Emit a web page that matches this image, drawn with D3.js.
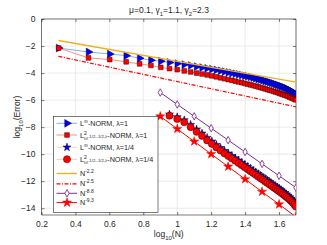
<!DOCTYPE html>
<html><head><meta charset="utf-8">
<script src="https://cdn.jsdelivr.net/npm/d3@7"></script>
<style>body{margin:0;background:#fff}svg{display:block;font-family:"Liberation Sans",Arial,sans-serif}</style>
</head><body><svg id="c" width="327" height="245"></svg>
<script>
// ---- data ----
const N = [2,3,4,5,6,7,8,9,10,11,12,13,14,15,16,17,18,19,20,21,22,23,24,25,26,27,28,29,30,31,32,33,34,35,36,37,38,39,40,41,42,43,44,45,46,47,48,49,50];
const errInfLam1 = [-2.15,-2.44,-2.59,-2.71,-2.90,-3.05,-3.12,-3.21,-3.30,-3.37,-3.44,-3.52,-3.59,-3.65,-3.71,-3.77,-3.83,-3.89,-3.95,-4.00,-4.05,-4.10,-4.15,-4.20,-4.25,-4.29,-4.34,-4.39,-4.44,-4.49,-4.54,-4.59,-4.63,-4.68,-4.73,-4.78,-4.83,-4.88,-4.93,-4.98,-5.03,-5.08,-5.14,-5.20,-5.26,-5.33,-5.40,-5.48,-5.57];
const errL2Lam1 = [-2.15,-2.88,-3.00,-3.17,-3.32,-3.44,-3.58,-3.67,-3.75,-3.84,-3.92,-4.00,-4.07,-4.14,-4.21,-4.28,-4.35,-4.42,-4.48,-4.54,-4.60,-4.66,-4.71,-4.77,-4.82,-4.87,-4.92,-4.97,-5.02,-5.07,-5.12,-5.17,-5.22,-5.26,-5.31,-5.36,-5.40,-5.45,-5.50,-5.54,-5.59,-5.63,-5.68,-5.73,-5.78,-5.83,-5.88,-5.93,-5.98];
const N14 = [9,10,11,12,13,14,15,16,17,18,19,20,21,22,23,24,25,26,27,28,29,30,31,32,33,34,35,36,37,38,39,40,41,42,43,44,45,46,47,48,49,50];
const errInfLam14 = [-7.05,-7.25,-7.48,-7.82,-8.16,-8.46,-8.78,-9.05,-9.30,-9.53,-9.75,-9.94,-10.12,-10.29,-10.46,-10.62,-10.77,-10.92,-11.06,-11.20,-11.33,-11.46,-11.58,-11.70,-11.82,-11.93,-12.04,-12.15,-12.26,-12.36,-12.46,-12.56,-12.66,-12.76,-12.86,-12.96,-13.06,-13.17,-13.28,-13.40,-13.54,-13.70];
const errL2Lam14 = [-7.16,-7.40,-7.64,-8.00,-8.35,-8.65,-8.98,-9.25,-9.50,-9.73,-9.95,-10.14,-10.32,-10.49,-10.66,-10.82,-10.97,-11.12,-11.26,-11.40,-11.53,-11.66,-11.78,-11.90,-12.02,-12.13,-12.24,-12.35,-12.46,-12.56,-12.66,-12.76,-12.86,-12.96,-13.06,-13.16,-13.26,-13.37,-13.48,-13.60,-13.73,-13.87];
const refXLow = [0.3, 1.7];
const ref22 = [-1.59, -4.67];
const ref25 = [-2.76, -6.50];
const refXHigh = [0.9,1.0,1.1,1.2,1.3,1.4,1.5,1.6,1.7];
const ref88 = [-5.44,-6.32,-7.20,-8.08,-8.96,-9.84,-10.72,-11.60,-12.48];
const ref93 = [-7.20,-8.13,-9.06,-9.99,-10.92,-11.85,-12.78,-13.71,-14.64];
const xTicks = [0.2,0.4,0.6,0.8,1.0,1.2,1.4,1.6];
const yTicks = [0,-2,-4,-6,-8,-10,-12,-14];

// ---- layout ----
const L = 41.5, R = 296, T = 19, B = 215;
const svg = d3.select("#c");
const x = d3.scaleLinear().domain([0.2, 1.7]).range([L, R]);
const y = d3.scaleLinear().domain([-14.5, 0]).range([B, T]);
const axisCol = "#262626";

// grid
const g = svg.append("g");
g.selectAll(".gx").data(xTicks.concat([1.7])).join("line")
  .attr("x1", d => x(d)).attr("x2", d => x(d)).attr("y1", T).attr("y2", B)
  .attr("stroke", "#e3e3e3").attr("stroke-width", 0.7);
g.selectAll(".gy").data(yTicks).join("line")
  .attr("y1", d => y(d)).attr("y2", d => y(d)).attr("x1", L).attr("x2", R)
  .attr("stroke", "#e3e3e3").attr("stroke-width", 0.7);

// axes
const xAx = svg.append("g").attr("transform", `translate(0,${B})`)
  .call(d3.axisBottom(x).tickValues(xTicks).tickSize(-3).tickPadding(6).tickFormat(d => d3.format("")(+d.toFixed(1))));
const xAxT = svg.append("g").attr("transform", `translate(0,${T})`)
  .call(d3.axisTop(x).tickValues(xTicks).tickSize(-3).tickFormat(""));
const yAx = svg.append("g").attr("transform", `translate(${L},0)`)
  .call(d3.axisLeft(y).tickValues(yTicks).tickSize(-3).tickPadding(6));
const yAxR = svg.append("g").attr("transform", `translate(${R},0)`)
  .call(d3.axisRight(y).tickValues(yTicks).tickSize(-3).tickFormat(""));
[xAx, xAxT, yAx, yAxR].forEach(a => {
  a.selectAll("path").attr("stroke", axisCol).attr("stroke-width", 0.6);
  a.selectAll("line").attr("stroke", axisCol).attr("stroke-width", 0.6);
  a.selectAll("text").attr("fill", axisCol).attr("font-size", 8.5)
   .attr("font-family", '"Liberation Sans",Arial,sans-serif');
});
xAx.selectAll("path").attr("d", `M${L},0H${R}`);
xAxT.selectAll("path").attr("d", `M${L},0H${R}`);
yAx.selectAll("path").attr("d", `M0,${T}V${B}`);
yAxR.selectAll("path").attr("d", `M0,${T}V${B}`);

// clip
svg.append("clipPath").attr("id", "clip").append("rect")
  .attr("x", L).attr("y", T).attr("width", R - L).attr("height", B - T);
const plot = svg.append("g").attr("clip-path", "url(#clip)");

const line = d3.line().x(d => x(d[0])).y(d => y(d[1]));
const lg = v => Math.log10(v);

function series(xs, ys, o) {
  const pts = xs.map((v, i) => [v, ys[i]]);
  plot.append("path").datum(pts).attr("d", line).attr("fill", "none")
    .attr("stroke", o.line).attr("stroke-width", o.lw || 0.8)
    .attr("stroke-dasharray", o.dash || null);
  if (o.sym) {
    plot.selectAll(null).data(pts).join("path")
      .attr("d", d3.symbol().type(o.sym).size(o.size))
      .attr("transform", d => `translate(${x(d[0])},${y(d[1])}) rotate(${o.rot || 0})`)
      .attr("fill", o.fill).attr("stroke", o.stroke).attr("stroke-width", o.sw || 0.5);
  }
}
const S = {
  infL1: {line: "#5aa0e6", sym: d3.symbolTriangle, size: 26, rot: 90, fill: "#0000ff", stroke: "#000030"},
  l2L1: {line: "#ff6b6b", sym: d3.symbolSquare, size: 22, fill: "#ff0000", stroke: "#300000"},
  infL14: {line: "#f6c9a6", sym: d3.symbolStar, size: 20, fill: "#0000ff", stroke: "#000030"},
  l2L14: {line: "#ffb0b0", sym: d3.symbolCircle, size: 40, fill: "#ff0000", stroke: "#300000"},
  r22: {line: "#EDB120", lw: 1.4},
  r25: {line: "#ff0000", lw: 1.2, dash: "4,1.5,1,1.5"},
  r88: {line: "#7E2F8E", lw: 1, sym: d3.symbolDiamond, size: 16, fill: "#ffffff", stroke: "#7E2F8E", sw: 0.9},
  r93: {line: "#ff0000", lw: 1, sym: d3.symbolStar, size: 26, fill: "#ff0000", stroke: "#ff0000"}
};
series(N.map(lg), errInfLam1, S.infL1);
series(N.map(lg), errL2Lam1, S.l2L1);
series(N14.map(lg), errInfLam14, S.infL14);
series(N14.map(lg), errL2Lam14, S.l2L14);
series(refXLow, ref22, S.r22);
series(refXLow, ref25, S.r25);
series(refXHigh, ref88, S.r88);
series(refXHigh, ref93, S.r93);

// text helper
function rich(parent, xx, yy, segs, base, anchor) {
  const t = parent.append("text").attr("x", xx).attr("y", yy).attr("font-size", base)
    .attr("fill", axisCol).attr("text-anchor", anchor || "start");
  let cur = 0;
  segs.forEach(s => {
    const off = s.off || 0;
    t.append("tspan").attr("dy", off - cur).attr("dx", s.dx || 0)
      .attr("font-size", s.size || base).text(s.t);
    cur = off;
  });
  return t;
}

// title & labels
rich(svg, 169, 13, [{t: "μ=0.1, γ"}, {t: "1", off: 2.5, size: 6}, {t: "=1.1, γ"}, {t: "2", off: 2.5, size: 6}, {t: "=2.3"}], 8.5, "middle");
rich(svg, (L + R) / 2, 237, [{t: "log"}, {t: "10", off: 2.5, size: 6}, {t: "(N)"}], 8.5, "middle");
const yl = svg.append("g").attr("transform", `translate(20,${(T + B) / 2}) rotate(-90)`);
rich(yl, 0, 0, [{t: "log"}, {t: "10", off: 2.5, size: 6}, {t: "(Error)"}], 8.5, "middle");

// legend
const lgd = svg.append("g");
lgd.append("rect").attr("x", 53.5).attr("y", 116.5).attr("width", 104.5).attr("height", 96)
  .attr("fill", "#fff").attr("stroke", "#262626").attr("stroke-width", 0.6);
const rowsY = [123.3, 135, 147.3, 159.3, 173.5, 183.8, 193.3, 202.6];
const l2segs = lam => [{t: "L"}, {t: "2", off: -3, size: 5}, {t: "ω", off: 2.5, size: 5, dx: -2.8}, {t: "-1/2,-1/2,λ", off: 0.5, size: 4.3}, {t: "-NORM, λ=" + lam, off: 0}];
const entries = [
  {s: S.infL1, segs: [{t: "L"}, {t: "∞", off: -3, size: 5.5}, {t: "-NORM, λ=1"}]},
  {s: S.l2L1, segs: l2segs("1")},
  {s: S.infL14, segs: [{t: "L"}, {t: "∞", off: -3, size: 5.5}, {t: "-NORM, λ=1/4"}]},
  {s: S.l2L14, segs: l2segs("1/4")},
  {s: S.r22, segs: [{t: "N"}, {t: "-2.2", off: -3, size: 5}]},
  {s: S.r25, segs: [{t: "N"}, {t: "-2.5", off: -3, size: 5}]},
  {s: S.r88, segs: [{t: "N"}, {t: "-8.8", off: -3, size: 5}]},
  {s: S.r93, segs: [{t: "N"}, {t: "-9.3", off: -3, size: 5}]}
];
entries.forEach((e, i) => {
  const yy = rowsY[i];
  lgd.append("line").attr("x1", 56.5).attr("x2", 77).attr("y1", yy).attr("y2", yy)
    .attr("stroke", e.s.line).attr("stroke-width", e.s.lw || 0.8)
    .attr("stroke-dasharray", e.s.dash || null);
  if (e.s.sym) {
    lgd.append("path").attr("d", d3.symbol().type(e.s.sym).size(e.s.size))
      .attr("transform", `translate(67,${yy}) rotate(${e.s.rot || 0})`)
      .attr("fill", e.s.fill).attr("stroke", e.s.stroke).attr("stroke-width", e.s.sw || 0.5);
  }
  rich(lgd, 80, yy + 2.6, e.segs, 7.2);
});
</script></body></html>
